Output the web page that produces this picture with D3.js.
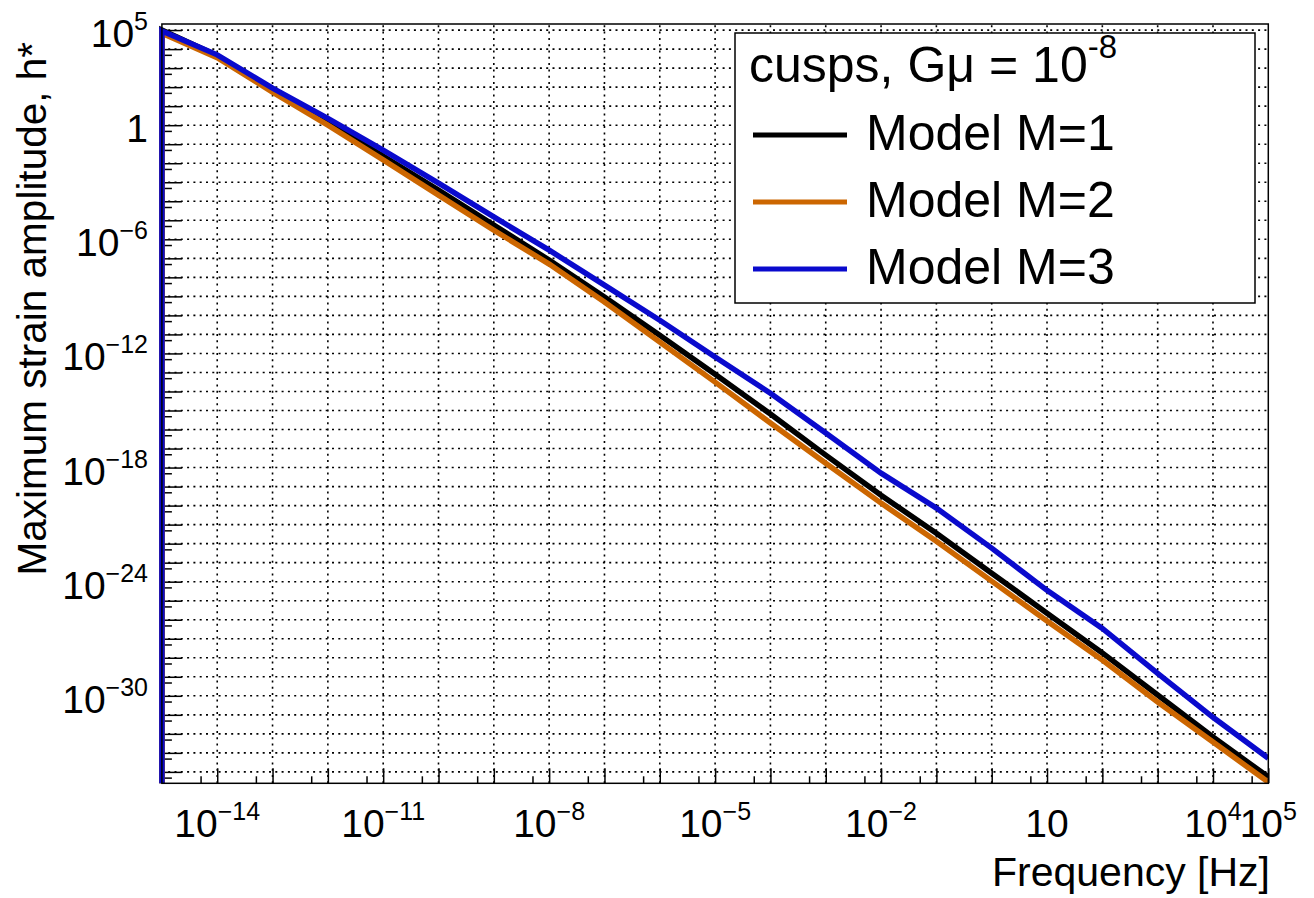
<!DOCTYPE html>
<html>
<head>
<meta charset="utf-8">
<script src="https://cdn.jsdelivr.net/npm/d3@7"></script>
<style>
body { margin: 0; background: #fff; }
text { font-family: "Liberation Sans", Arial, Helvetica, sans-serif; fill: #000; }
.grid line { stroke: #000; stroke-width: 1.6; stroke-dasharray: 2 4.3; }
.axis line { stroke: #000; stroke-width: 1.5; }
.axis path { display: none; }
</style>
</head>
<body>
<div id="chart"></div>
<script>
// frequencies, one point per decade
var freq = [1e-15, 1e-14, 1e-13, 1e-12, 1e-11, 1e-10, 1e-9, 1e-8, 1e-7, 1e-6, 1e-5,
            1e-4, 1e-3, 1e-2, 1e-1, 1, 10, 100, 1e3, 1e4, 1e5];

// maximum strain amplitude h*
var hM1 = [1.0e5, 4.5e3, 71, 1.45, 2.4e-2, 3.9e-4, 5.6e-6, 8.1e-8, 9.1e-10, 9.1e-12, 8.1e-14,
           6.5e-16, 4.5e-18, 3.5e-20, 3.5e-22, 2.8e-24, 2.2e-26, 1.8e-28, 1.1e-30, 6.8e-33, 5.4e-35];
var hM2 = [6.9e4, 3.5e3, 55, 1.0, 1.5e-2, 2.1e-4, 3.0e-6, 5.0e-8, 5.0e-10, 4.0e-12, 3.1e-14,
           2.2e-16, 1.7e-18, 1.35e-20, 1.35e-22, 1.07e-24, 8.5e-27, 7.6e-29, 4.7e-31, 3.7e-33, 2.9e-35];
var hM3 = [8.9e4, 5.0e3, 89, 2.3, 4.9e-2, 9.1e-4, 1.5e-5, 2.7e-7, 3.9e-9, 5.6e-11, 6.5e-13,
           8.1e-15, 6.5e-17, 5.1e-19, 7.4e-21, 5.8e-23, 3.5e-25, 3.5e-27, 1.5e-29, 7.4e-32, 5.2e-34];

var seriesNames = ["Model M=1", "Model M=2", "Model M=3"];
var seriesColors = ["#000000", "#cc6600", "#0a0acd"];
var legendTitle = "cusps, G\u03bc = 10";
var legendTitleExp = "-8";

// tick labels (exponents of ten)
var xLabelExp = [-14, -11, -8, -5, -2, 1, 4, 5];
var yLabelExp = [5, 0, -6, -12, -18, -24, -30];

var xTitle = "Frequency [Hz]";
var yTitle = "Maximum strain amplitude, h*";

var width = 1314, height = 898;
var margin = {top: 24, right: 45.7, bottom: 114.7, left: 161.9};

var x = d3.scaleLog()
    .domain([1e-15, 1e5])
    .range([margin.left, width - margin.right]);
var y = d3.scaleLog()
    .domain([Math.pow(10, -34.6), Math.pow(10, 5.32)])
    .range([height - margin.bottom, margin.top]);

var svg = d3.select("#chart")
    .append("svg")
    .attr("width", width)
    .attr("height", height);

var x0 = margin.left, x1 = width - margin.right;
var y0 = height - margin.bottom, y1 = margin.top;

var xMajor = d3.range(-15, 6).map(function(e) { return Math.pow(10, e); });
var xMinor = d3.range(-15, 5).map(function(e) { return 5 * Math.pow(10, e); });
var yMajor = d3.range(-34, 6).map(function(e) { return Math.pow(10, e); });
var yMinor = d3.range(-35, 5).map(function(e) { return 5 * Math.pow(10, e); });

// grid
var grid = svg.append("g").attr("class", "grid");
grid.selectAll("line.gx")
    .data(xMajor.slice(1, -1))
    .enter().append("line")
    .attr("x1", function(d) { return x(d); })
    .attr("x2", function(d) { return x(d); })
    .attr("y1", y0).attr("y2", y1);
grid.selectAll("line.gy")
    .data(yMajor)
    .enter().append("line")
    .attr("y1", function(d) { return y(d); })
    .attr("y2", function(d) { return y(d); })
    .attr("x1", x0).attr("x2", x1);

// ticks (inside the frame, ROOT style)
svg.append("g").attr("class", "axis")
    .attr("transform", "translate(0," + y0 + ")")
    .call(d3.axisBottom(x).tickValues(xMajor).tickSize(-15).tickFormat(""));
svg.append("g").attr("class", "axis")
    .attr("transform", "translate(0," + y0 + ")")
    .call(d3.axisBottom(x).tickValues(xMinor).tickSize(-7).tickFormat(""));
svg.append("g").attr("class", "axis")
    .attr("transform", "translate(" + x0 + ",0)")
    .call(d3.axisLeft(y).tickValues(yMajor).tickSize(-20).tickFormat(""));
svg.append("g").attr("class", "axis")
    .attr("transform", "translate(" + x0 + ",0)")
    .call(d3.axisLeft(y).tickValues(yMinor).tickSize(-10).tickFormat(""));

// curves
svg.append("clipPath").attr("id", "clip")
    .append("rect")
    .attr("x", x0 - 4).attr("y", y1)
    .attr("width", x1 - x0 + 4).attr("height", y0 - y1);

var line = d3.line()
    .x(function(d) { return x(d[0]); })
    .y(function(d) { return d[1] === null ? y0 + 10 : y(d[1]); });

var seriesData = [hM1, hM2, hM3];
var curves = svg.append("g").attr("clip-path", "url(#clip)");
seriesData.forEach(function(h, i) {
    // series enters from below the frame at the lowest frequency
    var pts = [[freq[0], null]].concat(freq.map(function(f, j) { return [f, h[j]]; }));
    curves.append("path")
        .datum(pts)
        .attr("fill", "none")
        .attr("stroke", seriesColors[i])
        .attr("stroke-width", 5.5)
        .attr("d", line);
});

// frame
svg.append("rect")
    .attr("x", x0).attr("y", y1)
    .attr("width", x1 - x0).attr("height", y0 - y1)
    .attr("fill", "none").attr("stroke", "#000").attr("stroke-width", 1.5);

function powLabel(sel, e) {
    if (e === 0) { sel.text("1"); return; }
    if (e === 1) { sel.text("10"); return; }
    sel.append("tspan").text("10");
    sel.append("tspan")
        .attr("font-size", 25)
        .attr("dy", -17)
        .text(e < 0 ? "\u2212" + (-e) : String(e));
}

// x labels
svg.selectAll("text.xl")
    .data(xLabelExp)
    .enter().append("text")
    .attr("class", "xl")
    .attr("x", function(e) { return x(Math.pow(10, e)); })
    .attr("y", 837)
    .attr("font-size", 39)
    .attr("text-anchor", "middle")
    .each(function(e) { powLabel(d3.select(this), e); });

// y labels
svg.selectAll("text.yl")
    .data(yLabelExp)
    .enter().append("text")
    .attr("class", "yl")
    .attr("x", 148)
    .attr("y", function(e) { return y(Math.pow(10, e)) + 17; })
    .attr("font-size", 39)
    .attr("text-anchor", "end")
    .each(function(e) { powLabel(d3.select(this), e); });

// axis titles
svg.append("text")
    .attr("x", 1270).attr("y", 886)
    .attr("font-size", 41)
    .attr("text-anchor", "end")
    .text(xTitle);
svg.append("text")
    .attr("transform", "translate(46,42) rotate(-90)")
    .attr("font-size", 40.5)
    .attr("text-anchor", "end")
    .text(yTitle);

// legend
var lg = svg.append("g");
lg.append("rect")
    .attr("x", 735).attr("y", 33)
    .attr("width", 520).attr("height", 270)
    .attr("fill", "#fff").attr("stroke", "#000").attr("stroke-width", 1.5);
var lt = lg.append("text")
    .attr("x", 749).attr("y", 82)
    .attr("font-size", 50);
lt.append("tspan").text(legendTitle);
lt.append("tspan").attr("font-size", 33).attr("dy", -24).text(legendTitleExp);

seriesNames.forEach(function(name, i) {
    var cy = 135 + i * 67;
    lg.append("line")
        .attr("x1", 753).attr("x2", 847)
        .attr("y1", cy).attr("y2", cy)
        .attr("stroke", seriesColors[i]).attr("stroke-width", 5);
    lg.append("text")
        .attr("x", 866).attr("y", cy + 15)
        .attr("font-size", 50)
        .text(name);
});
</script>
</body>
</html>
